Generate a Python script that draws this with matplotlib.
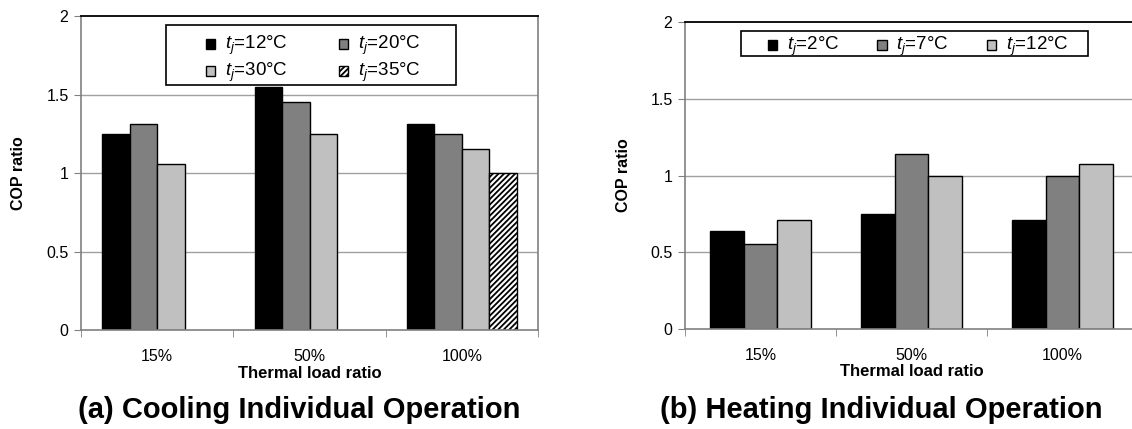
import matplotlib
matplotlib.use("Agg")
import matplotlib.pyplot as plt
from matplotlib.patches import Rectangle
from matplotlib.legend_handler import HandlerPatch
import numpy as np

plt.rcParams['font.family'] = ['Liberation Sans', 'DejaVu Sans']
plt.rcParams['mathtext.fontset'] = 'custom'
plt.rcParams['mathtext.it'] = 'Liberation Sans:italic'
plt.rcParams['mathtext.rm'] = 'Liberation Sans'
plt.rcParams['hatch.linewidth'] = 1.3

categories = ["15%", "50%", "100%"]

cool_labels = [r"$t_j$=12°C", r"$t_j$=20°C", r"$t_j$=30°C", r"$t_j$=35°C"]
cool_t12 = [1.25, 1.545, 1.315]
cool_t20 = [1.31, 1.45, 1.25]
cool_t30 = [1.055, 1.25, 1.155]
cool_t35 = [None, None, 1.0]

heat_labels = [r"$t_j$=2°C", r"$t_j$=7°C", r"$t_j$=12°C"]
heat_t2 = [0.638, 0.752, 0.708]
heat_t7 = [0.555, 1.137, 1.0]
heat_t12 = [0.709, 1.0, 1.072]

yticks = [0, 0.5, 1, 1.5, 2]
ytick_labels = ["0", "0.5", "1", "1.5", "2"]

colors = ["#000000", "#808080", "#C0C0C0", "#FFFFFF"]
hatches = [None, None, None, "//////"]

fig = plt.figure(figsize=(11.32, 4.29), dpi=100)
axL = fig.add_axes([81/1132, 1-330/429, 457/1132, 314/429])
axR = fig.add_axes([685/1132, 1-329/429, 453/1132, 307/429])


def square(legend, orig_handle, xdescent, ydescent, width, height, fontsize):
    s = 0.5 * fontsize
    return Rectangle((-xdescent + (width - s) / 2, -ydescent + (height - s) / 2 - 1), s, s)


hmap = {Rectangle: HandlerPatch(patch_func=square)}


def style_axes(ax, ylab_x):
    ax.set_ylim(0, 2)
    ax.set_xlim(-0.5, 2.5)
    ax.set_yticks(yticks)
    ax.set_yticklabels(ytick_labels, fontsize=11.5)
    ax.set_xticks([0, 1, 2])
    ax.set_xticklabels(categories, fontsize=11.5)
    ax.set_xticks([-0.5, 0.5, 1.5, 2.5], minor=True)
    ax.tick_params(axis='x', which='major', length=0, pad=14)
    ax.tick_params(axis='x', which='minor', length=5, color='#808080', direction='out')
    ax.tick_params(axis='y', length=5, color='#808080', direction='out', pad=4)
    for g in [0.5, 1, 1.5]:
        ax.axhline(g, color='#A0A0A0', lw=1, zorder=0)
    for s in ['left', 'bottom', 'right']:
        ax.spines[s].set_color('#808080')
        ax.spines[s].set_linewidth(1.2)
    ax.spines['top'].set_color('#000000')
    ax.spines['top'].set_linewidth(1.3)
    ax.text(0.5, -0.137, "Thermal load ratio", transform=ax.transAxes,
            ha='center', va='center', fontsize=12, fontweight='bold')
    ax.text(ylab_x, 0.5, "COP ratio", transform=ax.transAxes, rotation=90,
            ha='center', va='center', fontsize=11.5, fontweight='bold')


x = np.arange(len(categories))

# Cooling
wL = 0.18
cool_series = [cool_t12, cool_t20, cool_t30, cool_t35]
handlesL = []
for i, vals in enumerate(cool_series):
    xs = [x[k] + (i - 1.5) * wL for k in range(3) if vals[k] is not None]
    vs = [v for v in vals if v is not None]
    b = axL.bar(xs, vs, width=wL, color=colors[i], edgecolor='black',
                linewidth=1, hatch=hatches[i], zorder=2, label=cool_labels[i])
    handlesL.append(b.patches[0])
style_axes(axL, -0.136)
axL.add_patch(Rectangle((0.186, 0.780), 0.635, 0.191, transform=axL.transAxes,
                        facecolor='white', edgecolor='black', lw=1.2, zorder=4))
order = [0, 2, 1, 3]
legL = axL.legend([handlesL[k] for k in order], [cool_labels[k] for k in order],
                  ncol=2, loc='upper left', bbox_to_anchor=(0.271, 0.943),
                  fontsize=13.5, frameon=False, handlelength=0.6, handleheight=0.6,
                  handletextpad=0.45, borderpad=0, labelspacing=0.2,
                  columnspacing=2.7, borderaxespad=0, handler_map=hmap)
legL.set_zorder(5)

# Heating
wR = 0.225
heat_series = [heat_t2, heat_t7, heat_t12]
handlesR = []
for i, vals in enumerate(heat_series):
    b = axR.bar(x + (i - 1) * wR, vals, width=wR, color=colors[i], edgecolor='black',
                linewidth=1, zorder=2, label=heat_labels[i])
    handlesR.append(b.patches[0])
style_axes(axR, -0.135)
axR.add_patch(Rectangle((0.124, 0.889), 0.766, 0.081, transform=axR.transAxes,
                        facecolor='white', edgecolor='black', lw=1.2, zorder=4))
legR = axR.legend(handlesR, heat_labels, ncol=3, loc='upper left',
                  bbox_to_anchor=(0.181, 0.958), fontsize=13.5, frameon=False,
                  handlelength=0.6, handleheight=0.6, handletextpad=0.45,
                  borderpad=0, columnspacing=2.0, borderaxespad=0, handler_map=hmap)
legR.set_zorder(5)

fig.text(299/1132, 1-410/429, "(a) Cooling Individual Operation", ha='center',
         va='center', fontsize=21, fontweight='bold')
fig.text(881/1132, 1-410/429, "(b) Heating Individual Operation", ha='center',
         va='center', fontsize=21, fontweight='bold')

fig.savefig("out.png", dpi=100)
